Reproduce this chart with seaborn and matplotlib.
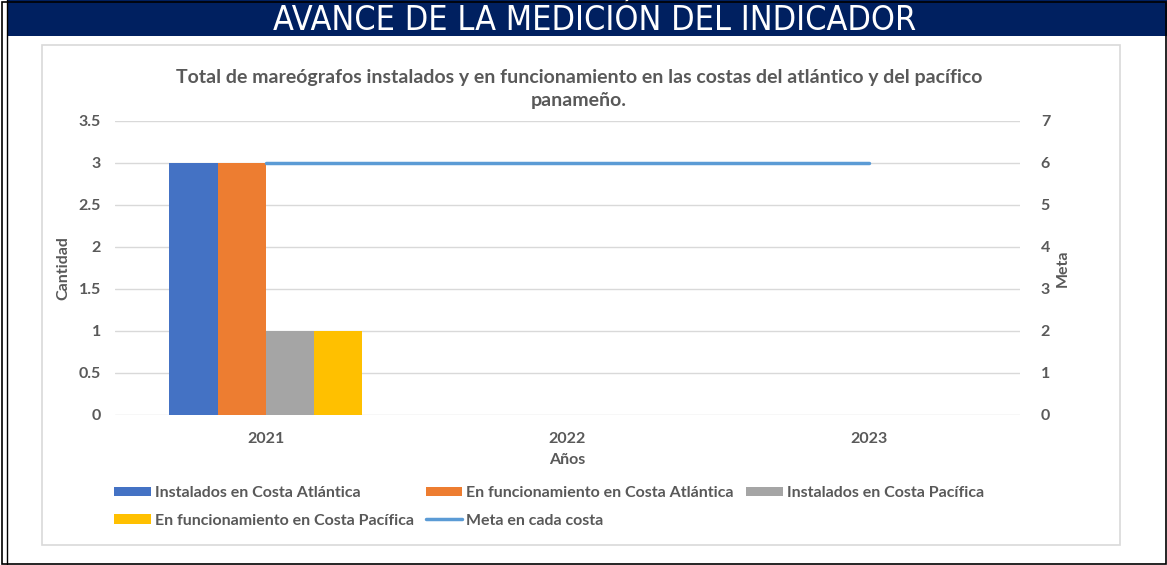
import matplotlib
matplotlib.use("Agg")
import matplotlib.pyplot as plt
import seaborn as sns
import pandas as pd
import numpy as np
from matplotlib.patches import Rectangle
from matplotlib.lines import Line2D

years = ["2021", "2022", "2023"]
inst_atl = [3, 0, 0]
func_atl = [3, 0, 0]
inst_pac = [1, 0, 0]
func_pac = [1, 0, 0]
meta = [6, 6, 6]
series_names = ["Instalados en Costa Atlántica", "En funcionamiento en Costa Atlántica",
                "Instalados en Costa Pacífica", "En funcionamiento en Costa Pacífica"]
meta_name = "Meta en cada costa"
colors = ["#4472C4", "#ED7D31", "#A5A5A5", "#FFC000"]
line_color = "#5B9BD5"
left_ticks = [0, 0.5, 1, 1.5, 2, 2.5, 3, 3.5]
right_ticks = [0, 1, 2, 3, 4, 5, 6, 7]

sns.set_theme(style="white")
plt.rcParams['font.family'] = ['Lato', 'DejaVu Sans']
plt.rcParams['font.weight'] = 'bold'
gray = "#595959"

rows = []
for name, vals in zip(series_names, [inst_atl, func_atl, inst_pac, func_pac]):
    for y, v in zip(years, vals):
        rows.append({"Año": y, "Serie": name, "Valor": v})
df = pd.DataFrame(rows)

W, H = 1167, 565
fig = plt.figure(figsize=(W/100, H/100), dpi=100)
fig.patch.set_facecolor("white")

# banner
fig.patches.append(Rectangle((8/W, 1-36/H), (W-8)/W, 36/H, transform=fig.transFigure,
                             facecolor="#002060", edgecolor="none", zorder=0))
fig.text(595/W, 1-20/H, "AVANCE DE LA MEDICIÓN DEL INDICADOR", color="white",
         fontsize=24.5, ha="center", va="center", fontweight="normal",
         family=['DejaVu Sans'], fontstretch="condensed")
# outer borders
fig.patches.append(Rectangle((1.5/W, 1.5/H), (W-3)/W, (H-3)/H, transform=fig.transFigure,
                             facecolor="none", edgecolor="black", lw=1.2, zorder=5))
fig.lines.append(Line2D([7/W, 7/W], [0, 1], transform=fig.transFigure, color="black", lw=1))
# chart box
fig.patches.append(Rectangle((42/W, 1-545/H), (1120-42)/W, (545-45)/H, transform=fig.transFigure,
                             facecolor="none", edgecolor="#D9D9D9", lw=1.2, zorder=1))

ax = fig.add_axes([115/W, 1-415/H, (1020-115)/W, (415-121)/H])
sns.barplot(data=df, x="Año", y="Valor", hue="Serie", hue_order=series_names,
            palette=colors, width=0.64, saturation=1, ax=ax, legend=False, edgecolor="none")
ax.set_xlim(-0.5, 2.5)
ax.set_ylim(0, 3.5)
ax.set_yticks(left_ticks)
ax.set_yticklabels([f"{t:g}" for t in left_ticks])
ax.grid(axis="y", color="#D9D9D9", lw=1)
ax.set_axisbelow(True)
for s in ax.spines.values():
    s.set_visible(False)
ax.tick_params(axis="both", length=0, colors=gray, labelsize=11.5, pad=10)
ax.tick_params(axis="x", pad=12)
ax.set_xlabel("Años", color=gray, fontsize=11.5, fontweight="bold", labelpad=5)
ax.set_ylabel("Cantidad", color=gray, fontsize=11.5, fontweight="bold", labelpad=6)

ax2 = ax.twinx()
sns.lineplot(x=np.arange(len(years)), y=meta, ax=ax2, color=line_color, lw=2.5)
ax2.set_ylim(0, 7)
ax2.set_yticks(right_ticks)
ax2.set_yticklabels([str(t) for t in right_ticks])
for s in ax2.spines.values():
    s.set_visible(False)
ax2.tick_params(axis="y", length=0, colors=gray, labelsize=11.5, pad=15)
ax2.set_ylabel("Meta", color=gray, fontsize=11.5, fontweight="bold", rotation=90, labelpad=4)
ax2.grid(False)

fig.text(579/W, 1-78/H, "Total de mareógrafos instalados y en funcionamiento en las costas del atlántico y del pacífico",
         ha="center", va="center", fontsize=14, fontweight="bold", color=gray)
fig.text(579/W, 1-100/H, "panameño.", ha="center", va="center", fontsize=14,
         fontweight="bold", color=gray)

handles = [Rectangle((0, 0), 1, 1, facecolor=c, edgecolor="none") for c in colors]
handles.append(Line2D([0], [0], color=line_color, lw=2.5))
labels = series_names + [meta_name]
order = [0, 3, 1, 4, 2]
leg = fig.legend([handles[i] for i in order], [labels[i] for i in order],
                 loc="upper left", bbox_to_anchor=(114/W, 1-486/H), ncol=3, frameon=False,
                 fontsize=11.5, handlelength=2.3, handleheight=0.55, handletextpad=0.25,
                 columnspacing=0.75, labelspacing=0.85, borderaxespad=0, borderpad=0)
for t in leg.get_texts():
    t.set_color(gray)
    t.set_fontweight("bold")

fig.savefig("out.png", dpi=100)
